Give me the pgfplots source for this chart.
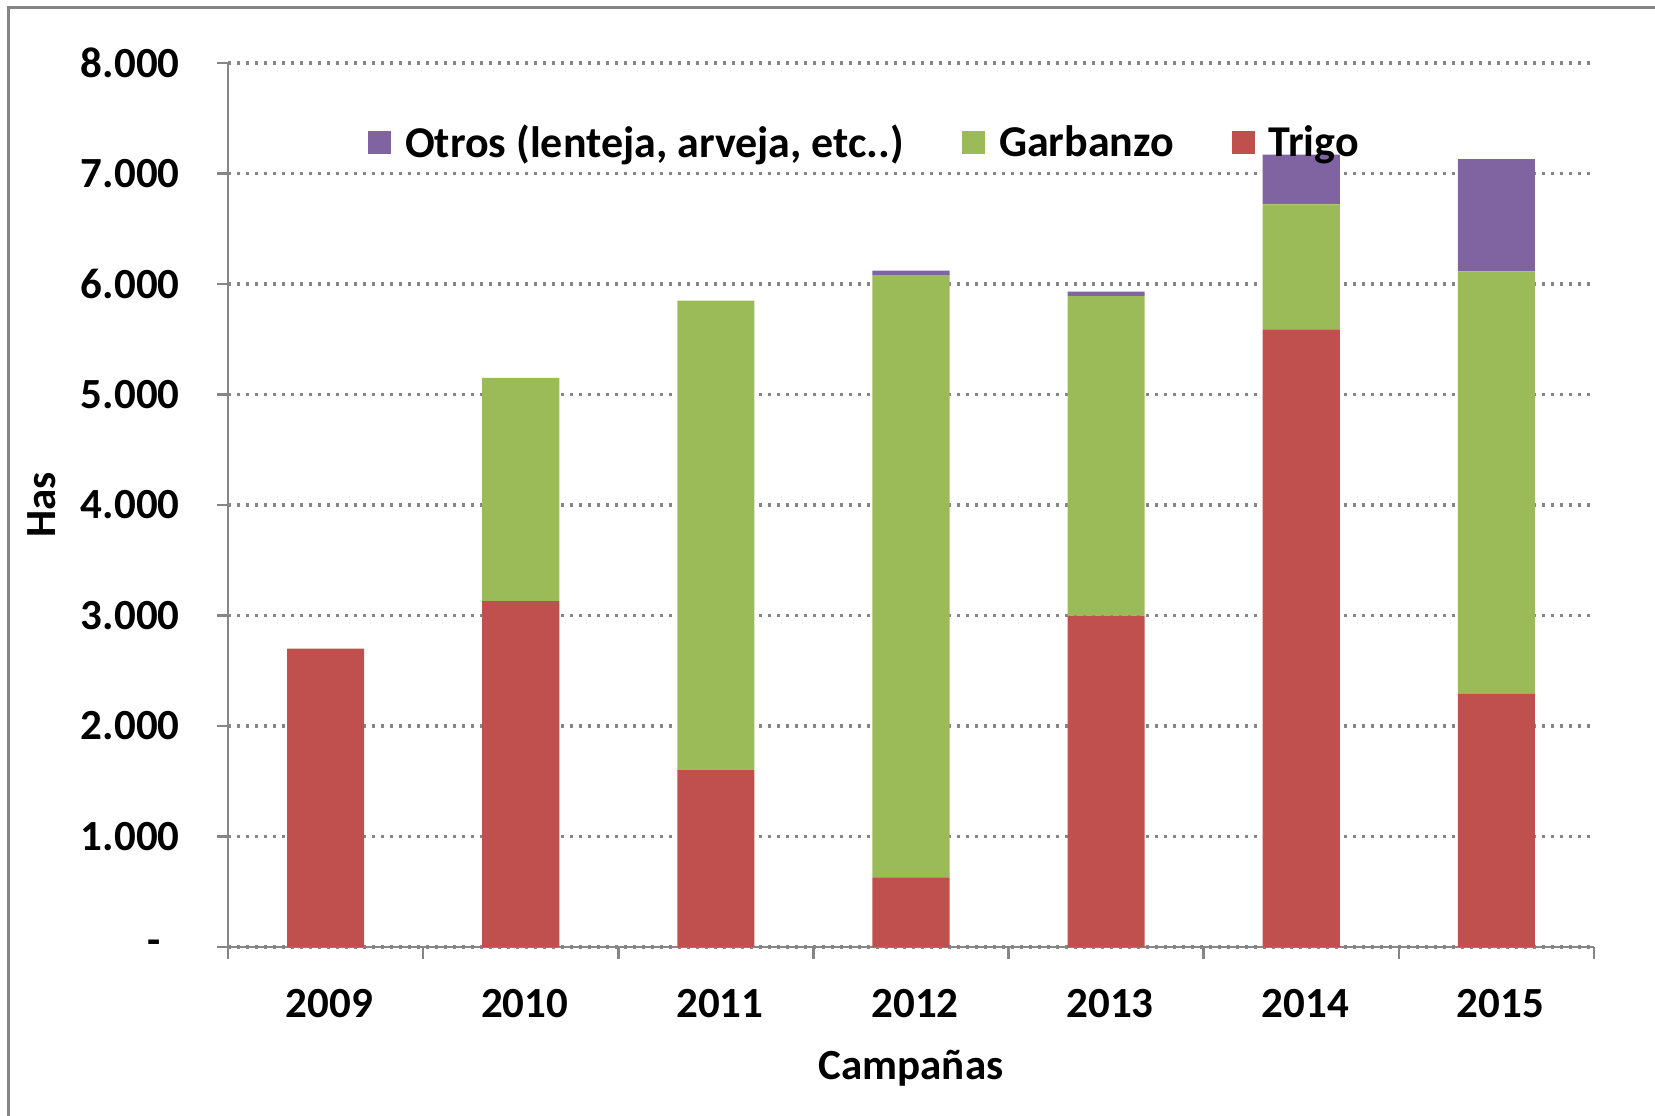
\documentclass[border=0pt]{standalone}
\usepackage{pgfplots}
\pgfplotsset{compat=1.18}
\usepackage{fontspec}
\setmainfont{Carlito}
\definecolor{otros}{RGB}{128,100,162}
\definecolor{garb}{RGB}{155,187,89}
\definecolor{trigo}{RGB}{192,80,77}
\definecolor{axgray}{RGB}{134,134,134}
\begin{document}
\begin{tikzpicture}[x=1pt,y=1pt]
\useasboundingbox (0,0) rectangle (827.5,557.5);
\draw[axgray, line width=1.5pt] (4,-20) -- (4,553.5) -- (860,553.5);
\begin{axis}[
  at={(114pt,84pt)}, anchor=south west,
  width=683pt, height=442pt, scale only axis,
  ybar stacked, bar width=0.395,
  xmin=-0.5, xmax=6.5, ymin=0, ymax=8000,
  axis lines*=left,
  xtick={0,...,6}, xticklabels={2009,2010,2011,2012,2013,2014,2015},
  major x tick style={draw=none},
  minor xtick={-0.5,0.5,...,6.5},
  ytick={0,1000,...,8000},
  yticklabels={{-\hspace*{9.5pt}\mbox{}},1.000,2.000,3.000,4.000,5.000,6.000,7.000,8.000},
  tick align=outside, major tick length=5.5pt, minor tick length=6pt,
  tick style={axgray, line width=1.35pt},
  axis line style={axgray, line width=1.35pt},
  ymajorgrids, grid style={axgray, line width=1.6pt, dash pattern=on 1.6pt off 2.9pt},
  tick label style={font=\fontsize{21.5}{25}\selectfont\bfseries},
  yticklabel style={anchor=east, inner sep=0pt, xshift=-18.5pt},
  xticklabel style={anchor=center, inner sep=0pt, yshift=-23pt, xshift=2pt},
  /pgf/number format/assume math mode=true,
  xlabel={Campañas}, ylabel={Has},
  every axis x label/.style={at={(axis description cs:0.5,-0.1369)}, anchor=center, font=\fontsize{21.5}{25}\selectfont\bfseries},
  every axis y label/.style={at={(axis description cs:-0.1362,0.5)}, anchor=center, rotate=90, font=\fontsize{21.5}{25}\selectfont\bfseries},
  reverse legend, legend columns=3,
  legend image code/.code={\fill[#1,draw=none] (0pt,-5.8pt) rectangle (11.6pt,5.8pt); \path (16.5pt,0pt);},
  legend style={draw=none, fill=none, at={(0.4667,0.910)}, anchor=center,
    font=\fontsize{22}{26}\selectfont\bfseries,
    /tikz/every even column/.append style={column sep=27pt}},
]
\addplot+[fill=trigo, draw=none] coordinates {(0,2700) (1,3130) (2,1600) (3,630) (4,3000) (5,5590) (6,2290)};
\addplot+[fill=garb, draw=none] coordinates {(0,0) (1,2020) (2,4250) (3,5450) (4,2890) (5,1130) (6,3825)};
\addplot+[fill=otros, draw=none] coordinates {(0,0) (1,0) (2,0) (3,40) (4,40) (5,450) (6,1015)};
\legend{Trigo, Garbanzo, {Otros (lenteja, arveja, etc..)}}
\end{axis}
\end{tikzpicture}
\end{document}
